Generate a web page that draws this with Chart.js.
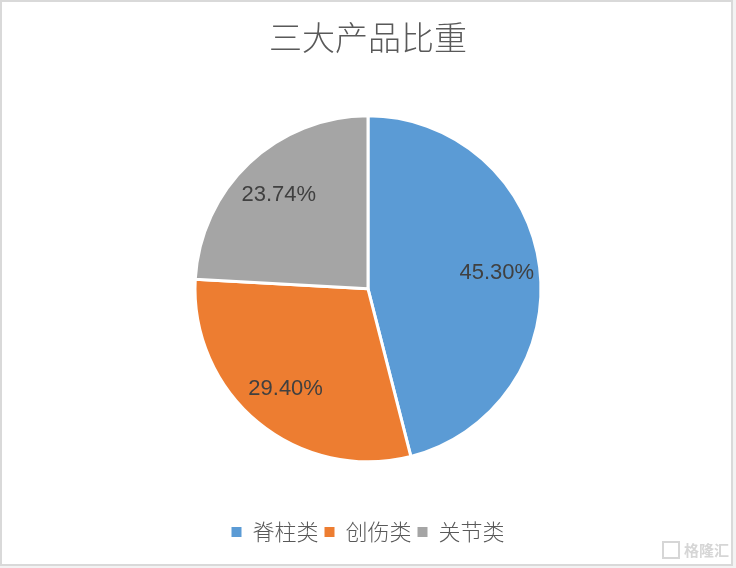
<!DOCTYPE html>
<html>
<head>
<meta charset="utf-8">
<script src="https://cdn.jsdelivr.net/npm/chart.js@4"></script>
<style>
  html, body { margin: 0; padding: 0; background: #f3f3f3; }
  #frame { position: absolute; left: 0; top: 0; width: 733px; height: 566px; box-sizing: border-box;
           border: 2px solid #d9d9d9; background: #fff; }
  #wrap { position: absolute; left: 0; top: 0; width: 736px; height: 568px; }
</style>
</head>
<body>
<div id="frame"></div>
<div id="wrap"><canvas id="myChart"></canvas></div>
<script>
// 三大产品比重
var labels = ["脊柱类", "创伤类", "关节类"];
var shares = [45.30, 29.40, 23.74];
var sliceColors = ["#5B9BD5", "#ED7D31", "#A5A5A5"];

// percentage text inside each slice
var sliceLabels = {
    id: "sliceLabels",
    afterDatasetsDraw: function (chart) {
        var ctx = chart.ctx;
        var meta = chart.getDatasetMeta(0);
        ctx.save();
        ctx.font = "22px 'Liberation Sans', Arial, sans-serif";
        ctx.fillStyle = "#404040";
        ctx.textAlign = "center";
        ctx.textBaseline = "middle";
        meta.data.forEach(function (arc, i) {
            var p = arc.getProps(["x", "y", "startAngle", "endAngle", "outerRadius"], true);
            var mid = (p.startAngle + p.endAngle) / 2;
            var r = p.outerRadius * 0.75;
            ctx.fillText(shares[i].toFixed(2) + "%", p.x + Math.cos(mid) * r, p.y + Math.sin(mid) * r);
        });
        ctx.restore();
    }
};

// watermark bottom right
var watermark = {
    id: "watermark",
    afterDraw: function (chart) {
        var ctx = chart.ctx;
        ctx.save();
        ctx.font = "bold 15px 'Noto Sans CJK SC', sans-serif";
        ctx.fillStyle = "#d6d6d6";
        ctx.textAlign = "right";
        ctx.textBaseline = "middle";
        ctx.fillText("格隆汇", 729, 550);
        ctx.strokeStyle = "#d6d6d6";
        ctx.lineWidth = 2;
        ctx.strokeRect(663, 542, 16, 16);
        ctx.restore();
    }
};

var defaultLegendLabels = Chart.overrides.pie.plugins.legend.labels.generateLabels;

new Chart("myChart", {
    type: "pie",
    data: {
        labels: labels,
        datasets: [{
            data: shares,
            backgroundColor: sliceColors,
            borderColor: "#ffffff",
            borderWidth: 3
        }]
    },
    options: {
        responsive: true,
        maintainAspectRatio: false,
        animation: false,
        radius: 173,
        layout: { padding: { top: 0, bottom: 15, left: 0, right: 0 } },
        plugins: {
            title: {
                display: true,
                text: "三大产品比重",
                color: "#595959",
                font: { family: "'Noto Sans CJK SC', sans-serif", size: 33, weight: "300" },
                padding: { top: 18, bottom: 5 }
            },
            legend: {
                position: "bottom",
                labels: {
                    color: "#595959",
                    boxWidth: 10,
                    boxHeight: 10,
                    padding: 6,
                    font: { family: "'Noto Sans CJK SC', sans-serif", size: 22, weight: "300" },
                    generateLabels: function (chart) {
                        var items = defaultLegendLabels(chart);
                        items.forEach(function (it) { it.lineWidth = 0; });
                        return items;
                    }
                }
            },
            tooltip: { enabled: false }
        }
    },
    plugins: [sliceLabels, watermark]
});
</script>
</body>
</html>
